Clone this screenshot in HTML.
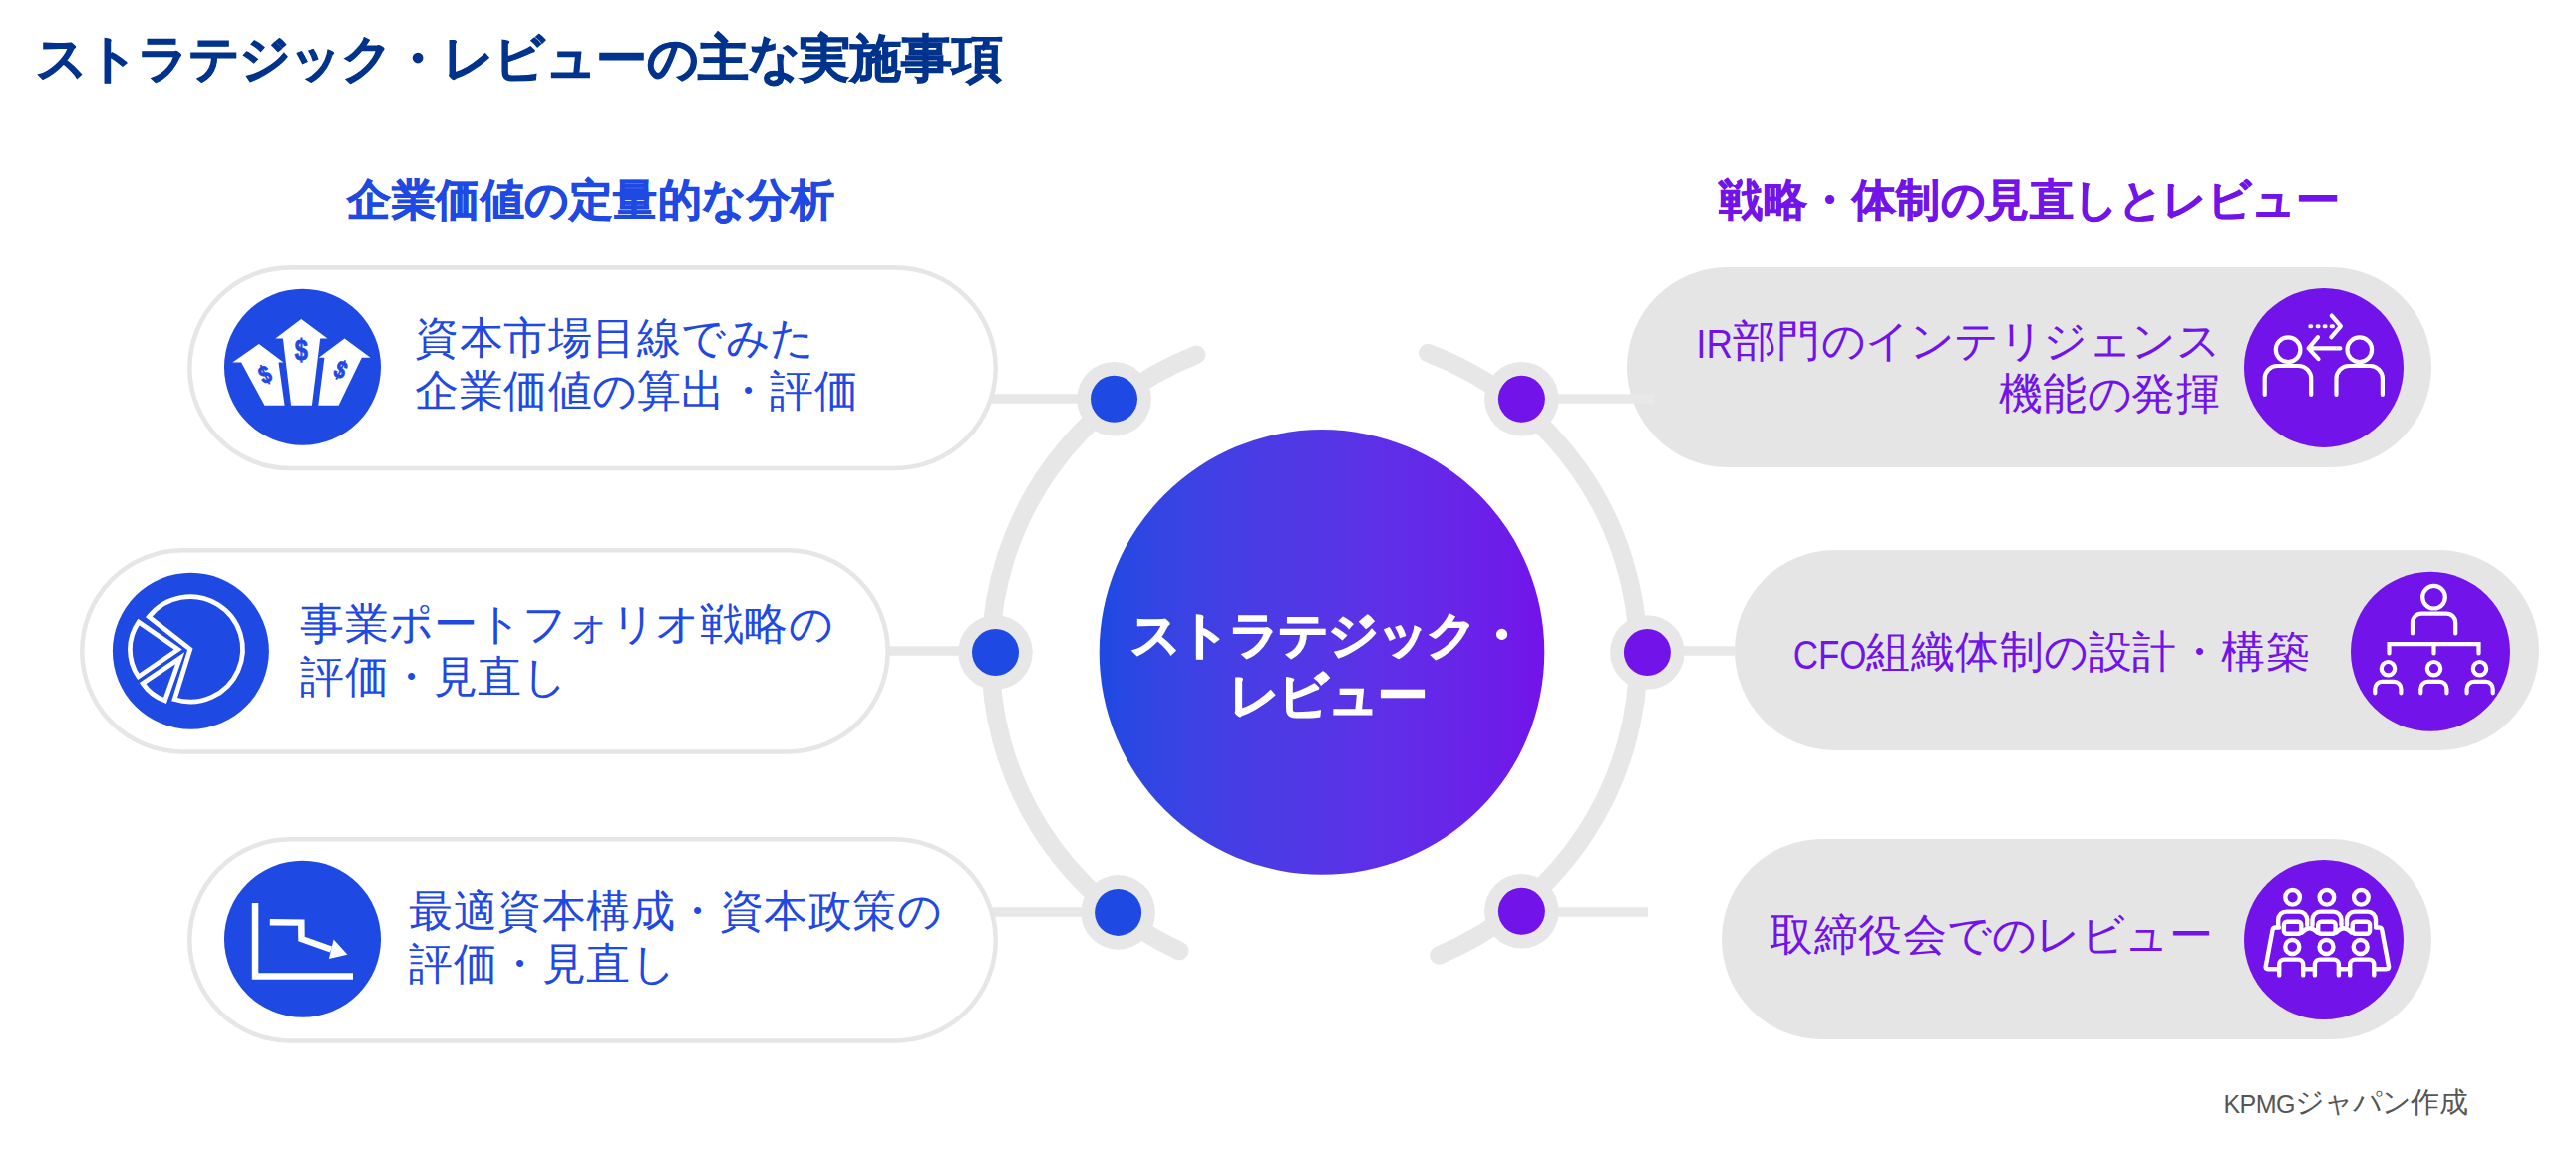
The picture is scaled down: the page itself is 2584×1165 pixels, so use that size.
<!DOCTYPE html>
<html lang="ja">
<head>
<meta charset="utf-8">
<title>ストラテジック・レビューの主な実施事項</title>
<style>
html,body{margin:0;padding:0;background:#fff;}
body{width:2584px;height:1165px;position:relative;overflow:hidden;font-family:"Liberation Sans",sans-serif;}
svg.bg{position:absolute;left:0;top:0;}
.t{position:absolute;white-space:nowrap;line-height:1;}
#title{left:36px;top:33px;font-size:51px;letter-spacing:0.05px;font-weight:bold;color:#00338D;-webkit-text-stroke:1px #00338D;}
.h{font-size:44px;letter-spacing:0.5px;font-weight:bold;top:179px;-webkit-text-stroke:0.7px currentColor;}
#hl{left:348px;color:#1E49E2;}
#hr{left:1724px;color:#7213EA;}
.b{font-size:44px;letter-spacing:0.5px;line-height:53.3px;}
.bl{color:#1E49E2;}
.br{color:#7213EA;text-align:right;}
.lat{font-size:40px;letter-spacing:0;display:inline-block;line-height:10px;transform-origin:100% 50%;position:relative;top:1.5px;}
#title .k{letter-spacing:-0.95px;}
.h .k,.b .k{letter-spacing:-0.5px;}
#center .k{letter-spacing:-1.46px;}
#foot .k{letter-spacing:-1px;}
#center{left:1132px;width:400px;text-align:center;top:606px;font-size:49.5px;letter-spacing:-0.46px;line-height:61px;font-weight:bold;color:#fff;-webkit-text-stroke:1.6px #fff;}
#foot{right:108px;top:1092px;font-size:29px;color:#565656;}
#foot .lat{font-size:25px;letter-spacing:-0.5px;transform:none;top:1px;}
</style>
</head>
<body>
<svg class="bg" width="2584" height="1165" viewBox="0 0 2584 1165">
<defs>
<linearGradient id="cg" x1="1103" y1="0" x2="1549" y2="0" gradientUnits="userSpaceOnUse">
<stop offset="0.0" stop-color="#1E49E2"/><stop offset="0.1" stop-color="#2F46E3"/><stop offset="0.2" stop-color="#3B42E4"/><stop offset="0.3" stop-color="#453EE4"/><stop offset="0.4" stop-color="#4D3AE5"/><stop offset="0.5" stop-color="#5536E6"/><stop offset="0.6" stop-color="#5C31E7"/><stop offset="0.7" stop-color="#622BE8"/><stop offset="0.8" stop-color="#6825E8"/><stop offset="0.9" stop-color="#6D1DE9"/><stop offset="1.0" stop-color="#7213EA"/>
</linearGradient>
</defs>
<!-- arcs -->
<g fill="none" stroke="#e7e7e7" stroke-width="18.5" stroke-linecap="round">
<path d="M 1200.2 355.8 A 325 325 0 0 0 1183.2 954.0"/>
<path d="M 1432.3 354.1 A 325 325 0 0 1 1443.4 958.5"/>
</g>
<!-- connector lines -->
<g stroke="#e7e7e7" stroke-width="9.6">
<line x1="995" y1="400" x2="1090" y2="400"/>
<line x1="888" y1="653" x2="970" y2="653"/>
<line x1="995" y1="915" x2="1095" y2="915"/>
</g>
<!-- left pills -->
<g fill="#fff" stroke="#e6e6e6" stroke-width="4.6">
<rect x="190.3" y="268.4" width="808.4" height="201.6" rx="100.8"/>
<rect x="82.3" y="552.3" width="808.4" height="202.2" rx="101.1"/>
<rect x="190.3" y="842.3" width="808.4" height="202.2" rx="101.1"/>
</g>
<!-- right pills -->
<g fill="#e5e5e5">
<rect x="1632" y="268" width="807" height="201" rx="100.5"/>
<rect x="1740" y="552" width="807" height="201" rx="100.5"/>
<rect x="1727" y="842" width="712" height="201" rx="100.5"/>
</g>
<g stroke="#e8e8e8" stroke-width="9.6">
<line x1="1550" y1="400" x2="1659" y2="400"/>
<line x1="1680" y1="653" x2="1741" y2="653"/>
<line x1="1550" y1="915" x2="1653" y2="915"/>
</g>
<!-- dots -->
<g fill="#e7e7e7">
<circle cx="1117.5" cy="400.3" r="37.3"/>
<circle cx="998.5" cy="654.5" r="37.3"/>
<circle cx="1121.6" cy="915.4" r="37.3"/>
<circle cx="1526.4" cy="400.3" r="37.3"/>
<circle cx="1652.4" cy="654.5" r="37.3"/>
<circle cx="1526.4" cy="914.3" r="37.3"/>
</g>
<g fill="#1E49E2">
<circle cx="1117.5" cy="400.3" r="23.5"/>
<circle cx="998.5" cy="654.5" r="23.5"/>
<circle cx="1121.6" cy="915.4" r="23.5"/>
</g>
<g fill="#7213EA">
<circle cx="1526.4" cy="400.3" r="23.5"/>
<circle cx="1652.4" cy="654.5" r="23.5"/>
<circle cx="1526.4" cy="914.3" r="23.5"/>
</g>
<!-- center -->
<circle cx="1326" cy="654.4" r="223.3" fill="url(#cg)"/>
<!-- icon circles -->
<g fill="#1E49E2">
<circle cx="303.5" cy="368.3" r="78.5"/>
<circle cx="191.4" cy="653.3" r="78.5"/>
<circle cx="303.5" cy="942.2" r="78.5"/>
</g>
<g fill="#7213EA">
<circle cx="2331" cy="368.9" r="80"/>
<circle cx="2438" cy="653.8" r="80"/>
<circle cx="2331" cy="943" r="80"/>
</g>
<!-- ICONS -->
<g fill="#fff">
<polygon points="302.2,319.9 328.5,339.6 321.2,339.6 312.9,406.8 292.1,406.8 283.9,339.6 276.4,339.6"/>
<polygon points="259.9,344.9 284.5,363.5 279.5,363.5 285.6,406.8 265.5,406.8 242.1,363.5 233.3,363.5"/>
<polygon points="345.5,339.6 371.6,358.8 362.8,358.8 339.6,406.8 319.3,406.8 325.4,358.8 319.7,358.8"/>
</g>
<g fill="#1E49E2" stroke="#1E49E2" stroke-width="0.9" font-family="Liberation Sans" font-weight="bold" text-anchor="middle">
<text x="0" y="0" font-size="29.5" transform="translate(302.4 350.9) scale(0.8 1) translate(0 10.3)">$</text>
<text x="0" y="0" font-size="25" transform="translate(265.8 375.6) rotate(-25) scale(0.8 1) translate(0 8.7)">$</text>
<text x="0" y="0" font-size="25" transform="translate(341.6 370.6) rotate(25) scale(0.8 1) translate(0 8.7)">$</text>
</g>
<g fill="none" stroke="#fff" stroke-width="4.7" stroke-linejoin="miter" stroke-miterlimit="10">
<path d="M 190.80 651.30 L 149.33 618.78 A 52.7 52.7 0 1 1 175.13 701.62 Z"/>
<path d="M 178.60 651.60 L 138.83 678.83 A 48.2 48.2 0 0 1 139.02 624.09 Z"/>
<path d="M 180.60 660.30 L 165.44 702.88 A 45.2 45.2 0 0 1 143.13 685.58 Z"/>
</g>
<g fill="none" stroke="#fff" stroke-width="6.5" stroke-linejoin="miter">
<path d="M 256.05 906 V 979.6 H 354"/>
<path d="M 270.8 925.2 L 302.3 925.6 L 302.5 942 L 332 952.5"/>
</g>
<polygon fill="#fff" points="348.4,957.7 334.6,942.4 329.9,962.0"/>
<g fill="none" stroke="#fff" stroke-width="4.2" stroke-linecap="round" stroke-linejoin="round">
<circle cx="2295.1" cy="350.7" r="12.3"/>
<circle cx="2366.8" cy="350.7" r="12.3"/>
<path d="M 2271.7 395.9 V 379.5 A 12.5 12.5 0 0 1 2284.2 367 H 2305.7 A 12.5 12.5 0 0 1 2318.2 379.5 V 395.9"/>
<path d="M 2343.5 395.9 V 379.5 A 12.5 12.5 0 0 1 2356.0 367 H 2377.4 A 12.5 12.5 0 0 1 2389.9 379.5 V 395.9"/>
<path d="M 2338.8 316.6 L 2347.9 327.2 L 2338.4 338.2"/>
<path d="M 2347.4 349.4 H 2315.8 M 2325 338.2 L 2315.6 349.4 L 2325.5 360.1"/>
<path d="M 2317.3 327.2 H 2318.3 M 2324.6 327.2 H 2325.6 M 2331.6 327.2 H 2332.6 M 2338.6 327.2 H 2340" stroke-width="4.0"/>
</g>
<g fill="none" stroke="#fff" stroke-width="4.2" stroke-linecap="round" stroke-linejoin="round">
<circle cx="2441.5" cy="599.2" r="11.3"/>
<path d="M 2420 635.5 V 624.7 A 9 9 0 0 1 2429 615.7 H 2454.2 A 9 9 0 0 1 2463.2 624.7 V 635.5"/>
<path d="M 2396.5 655.5 V 646.1 H 2486.5 V 655.5 M 2441.5 646.1 V 655.5" stroke-linejoin="miter" />
<circle cx="2395.5" cy="670.7" r="6.7"/>
<circle cx="2441.5" cy="670.7" r="6.7"/>
<circle cx="2487.5" cy="670.7" r="6.7"/>
<path d="M 2382.3 695.3 V 690.9 A 7 7 0 0 1 2389.3 683.9 H 2401.4 A 7 7 0 0 1 2408.4 690.9 V 695.3"/>
<path d="M 2428.3 695.3 V 690.9 A 7 7 0 0 1 2435.3 683.9 H 2447.4 A 7 7 0 0 1 2454.4 690.9 V 695.3"/>
<path d="M 2474.6 695.3 V 690.9 A 7 7 0 0 1 2481.6 683.9 H 2493.7 A 7 7 0 0 1 2500.7 690.9 V 695.3"/>
</g>
<g fill="none" stroke="#fff" stroke-width="4.4" stroke-linecap="round" stroke-linejoin="round">
<circle cx="2299.6" cy="900.3" r="7.3"/>
<path d="M 2285.2 928 V 922.6 A 8 8 0 0 1 2293.2 914.6 H 2306.2 A 8 8 0 0 1 2314.2 922.6 V 928"/>
<rect x="2290.9" y="924.7" width="17.4" height="12" rx="3"/>
<circle cx="2333.9" cy="900.3" r="7.3"/>
<path d="M 2319.5 928 V 922.6 A 8 8 0 0 1 2327.5 914.6 H 2340.5 A 8 8 0 0 1 2348.5 922.6 V 928"/>
<rect x="2325.2000000000003" y="924.7" width="17.4" height="12" rx="3"/>
<circle cx="2368.4" cy="900.3" r="7.3"/>
<path d="M 2354.0 928 V 922.6 A 8 8 0 0 1 2362.0 914.6 H 2375.0 A 8 8 0 0 1 2383.0 922.6 V 928"/>
<rect x="2359.7000000000003" y="924.7" width="17.4" height="12" rx="3"/>
<circle cx="2299.3" cy="950" r="7"/>
<path d="M 2286.2 978.4 V 967.6 A 5 5 0 0 1 2291.2 962.6 H 2305.2 A 5 5 0 0 1 2310.2 967.6 V 978.4"/>
<circle cx="2333.5" cy="950" r="7"/>
<path d="M 2321.9 978.4 V 967.6 A 5 5 0 0 1 2326.9 962.6 H 2340.9 A 5 5 0 0 1 2345.9 967.6 V 978.4"/>
<circle cx="2367.7" cy="950" r="7"/>
<path d="M 2357.2 978.4 V 967.6 A 5 5 0 0 1 2362.2 962.6 H 2376.3 A 5 5 0 0 1 2381.3 967.6 V 978.4"/>
<path d="M 2286.2 972.3 H 2275 Q 2272.3 972.3 2272.7 969.6 L 2279.6 932.8 Q 2280.2 930.5 2282.5 930.5 H 2286"/>
<path d="M 2381.3 972.3 H 2393.8 Q 2396.5 972.3 2396.1 969.6 L 2389.2 932.8 Q 2388.6 930.5 2386.3 930.5 H 2383"/>
<path d="M 2310.2 972.3 H 2321.9 M 2345.9 972.3 H 2357.2"/>
<path d="M 2309 935.5 Q 2316.7 927 2324.5 935.5 M 2343.3 935.5 Q 2351 927 2358.7 935.5"/>
</g>
</svg>

<div class="t" id="title"><span class="k">ストラテジック</span>・<span class="k">レビュ</span>ー<span class="k">の</span>主<span class="k">な</span>実施事項</div>
<div class="t h" id="hl">企業価値<span class="k">の</span>定量的<span class="k">な</span>分析</div>
<div class="t h" id="hr">戦略・体制<span class="k">の</span>見直<span class="k">しとレビュ</span>ー</div>

<div class="t b bl" style="left:416px;top:312px;">資本市場目線<span class="k">でみた</span><br>企業価値<span class="k">の</span>算出・評価</div>
<div class="t b bl" style="left:301px;top:599px;">事業<span class="k">ポ</span>ー<span class="k">トフォリオ</span>戦略<span class="k">の</span><br>評価・見直<span class="k">し</span></div>
<div class="t b bl" style="left:410px;top:887px;">最適資本構成・資本政策<span class="k">の</span><br>評価・見直<span class="k">し</span></div>

<div class="t b br" style="right:357px;top:315px;"><span class="lat" style="transform:scaleX(0.917)">IR</span>部門<span class="k">のインテリジェンス</span><br>機能<span class="k">の</span>発揮</div>
<div class="t b br" style="right:267px;top:627px;"><span class="lat" style="transform:scaleX(0.874)">CFO</span>組織体制<span class="k">の</span>設計・構築</div>
<div class="t b br" style="right:364px;top:911px;">取締役会<span class="k">でのレビュ</span>ー</div>

<div class="t" id="center"><span class="k">ストラテジック</span>・<br><span class="k">レビュ</span>ー</div>
<div class="t" id="foot"><span class="lat">KPMG</span><span class="k">ジャパン</span>作成</div>
</body>
</html>
